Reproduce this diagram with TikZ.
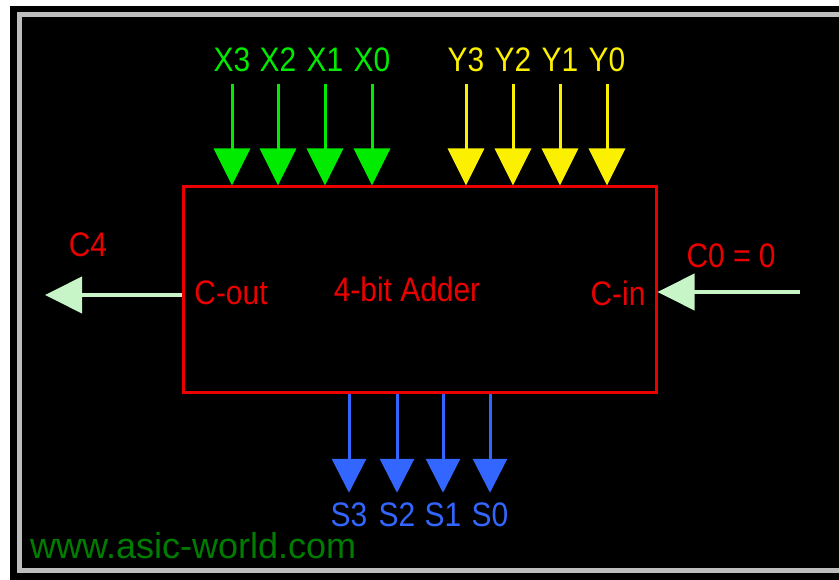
\documentclass[tikz,border=0pt]{standalone}
\usepackage{fontspec}
\setmainfont{Liberation Sans}
\newfontfamily\narrowfont{Liberation Sans}[FakeStretch=0.88]
\definecolor{awgreen}{RGB}{0,235,0}
\definecolor{awyellow}{RGB}{250,240,0}
\definecolor{awblue}{RGB}{51,102,255}
\definecolor{awred}{RGB}{235,0,0}
\definecolor{awmint}{RGB}{200,245,200}
\definecolor{awweb}{RGB}{0,125,0}
\definecolor{awframe}{RGB}{190,190,190}
\usetikzlibrary{arrows.meta,positioning}
\tikzset{
  adder/.style={draw=awred, line width=3pt, inner sep=0pt,
                minimum width=473pt, minimum height=206pt},
  pinlbl/.style={text=#1, inner sep=0pt, font=\narrowfont\fontsize{34}{34}\selectfont},
  inbus/.style={draw=#1, line width=3pt, shorten <=12pt,
                -{Triangle[width=36pt,length=37pt]}},
  outbus/.style={draw=#1, line width=3pt, shorten >=10pt,
                 -{Triangle[width=34pt,length=34pt]}},
  carry/.style={draw=awmint, line width=4pt,
                -{Triangle[width=36pt,length=37pt]}},
}

\begin{document}
\begin{tikzpicture}[x=1pt, y=-1pt]
\useasboundingbox (0,0) rectangle (839,580);

% Background and frame
\fill[white] (0,0) rectangle (839,580);
\fill[black] (10,6) rectangle (839,580);
\draw[awframe, line width=5pt] (839,15) -- (19.5,15) -- (19.5,570.5) -- (839,570.5);

% Adder block
\node[adder] (add) at (419.5,290) {};
\node[pinlbl=awred] (title) at (407,289) {4-bit Adder};
\node[pinlbl=awred] (coutlbl) at (231,293) {C-out};
\node[pinlbl=awred] (cinlbl) at (618,293) {C-in};

% X inputs
\node[pinlbl=awgreen] (x3) at (232,60) {X3};
\node[pinlbl=awgreen] (x2) at (278,60) {X2};
\node[pinlbl=awgreen] (x1) at (325,60) {X1};
\node[pinlbl=awgreen] (x0) at (372,60) {X0};
\draw[inbus=awgreen] (x3.south) -- (x3.south |- add.north);
\draw[inbus=awgreen] (x2.south) -- (x2.south |- add.north);
\draw[inbus=awgreen] (x1.south) -- (x1.south |- add.north);
\draw[inbus=awgreen] (x0.south) -- (x0.south |- add.north);

% Y inputs
\node[pinlbl=awyellow] (y3) at (466,60) {Y3};
\node[pinlbl=awyellow] (y2) at (513,60) {Y2};
\node[pinlbl=awyellow] (y1) at (560,60) {Y1};
\node[pinlbl=awyellow] (y0) at (607,60) {Y0};
\draw[inbus=awyellow] (y3.south) -- (y3.south |- add.north);
\draw[inbus=awyellow] (y2.south) -- (y2.south |- add.north);
\draw[inbus=awyellow] (y1.south) -- (y1.south |- add.north);
\draw[inbus=awyellow] (y0.south) -- (y0.south |- add.north);

% Sum outputs
\node[pinlbl=awblue] (s3) at (349,515) {S3};
\node[pinlbl=awblue] (s2) at (397,515) {S2};
\node[pinlbl=awblue] (s1) at (443,515) {S1};
\node[pinlbl=awblue] (s0) at (490,515) {S0};
\draw[outbus=awblue] (add.south -| s3.north) -- (s3.north);
\draw[outbus=awblue] (add.south -| s2.north) -- (s2.north);
\draw[outbus=awblue] (add.south -| s1.north) -- (s1.north);
\draw[outbus=awblue] (add.south -| s0.north) -- (s0.north);

% Carries
\node[pinlbl=awred] (c4) at (88,245) {C4};
\coordinate (c4tip) at (45,295);
\draw[carry] (add.west |- c4tip) -- (c4tip);
\node[pinlbl=awred] (c0) at (731,256) {C0 = 0};
\coordinate (c0start) at (800,292);
\draw[carry] (c0start) -- (add.east |- c0start);

% Site
\node[anchor=west, text=awweb, inner sep=0pt, font=\fontsize{36}{36}\selectfont]
  (site) at (30,546) {www.asic-world.com};

\end{tikzpicture}
\end{document}
